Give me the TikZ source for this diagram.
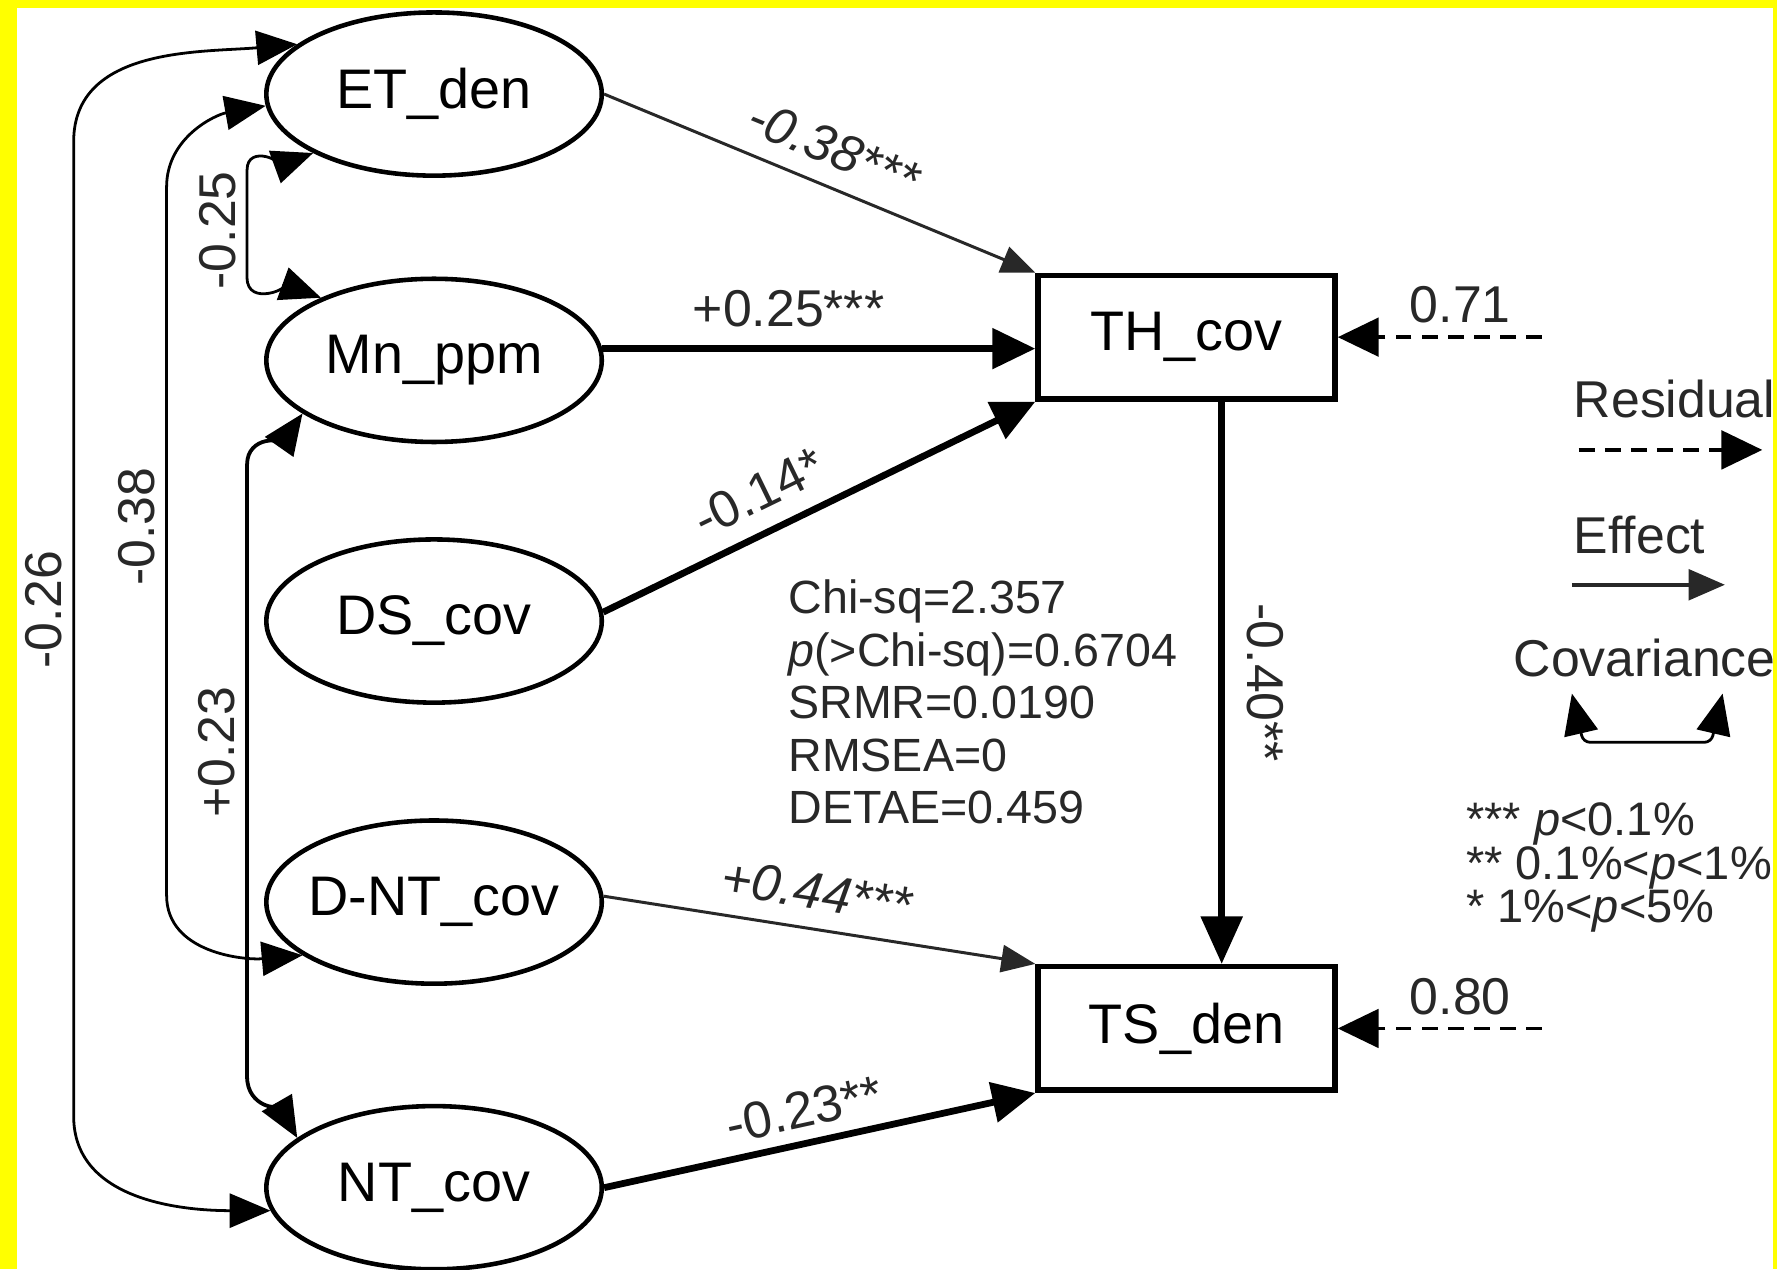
\documentclass[tikz,border=0pt]{standalone}
\usepackage{fontspec}
\setmainfont{Liberation Sans}
\usepackage{tikz}
\usetikzlibrary{arrows.meta, positioning, shapes.geometric}
\usepackage{xcolor}
\definecolor{frameyellow}{RGB}{255,255,0}
\definecolor{inkgray}{RGB}{40,40,40}

\begin{document}
\begin{tikzpicture}[
  latent/.style={ellipse, draw=black, line width=1.15pt, fill=white,
                 minimum width=2.96cm, minimum height=1.44cm, inner sep=0pt,
                 font=\fontsize{14}{16}\selectfont},
  obs/.style={rectangle, draw=black, line width=1.4pt, fill=white,
              minimum width=2.62cm, minimum height=1.09cm,
              font=\fontsize{14}{16}\selectfont},
  strong/.style={-{Triangle[length=0.38cm, width=0.35cm]}, line width=1.7pt, black},
  weak/.style={-{Triangle[length=0.30cm, width=0.24cm]}, line width=0.75pt, inkgray},
  cov/.style={{Triangle[length=0.36cm, width=0.30cm]}-{Triangle[length=0.36cm, width=0.30cm]},
              line width=0.7pt, black},
  resid/.style={-{Triangle[length=0.36cm, width=0.34cm]}, line width=0.85pt,
                dash pattern=on 0.14cm off 0.09cm},
  coef/.style={font=\fontsize{13}{15}\selectfont, text=inkgray, inner sep=4.5pt},
  coefit/.style={coef, font=\fontsize{13}{15}\selectfont\itshape},
  covlab/.style={coef, rotate=90, anchor=south, inner sep=2.5pt},
  stats/.style={font=\fontsize{11.7}{13.2}\selectfont, text=inkgray, align=left,
                inner sep=0pt, anchor=north west}
]

% frame
\fill[frameyellow] (0,0) rectangle (15.68,11.2);
\fill[white] (0.15,0) rectangle (15.645,11.13);
\useasboundingbox (0,0) rectangle (15.68,11.2);

% left column: predictors
\node[latent] (etden)  at (3.83,10.37) {ET\_den};
\node[latent] (mnppm)  at (3.83,8.02)  {Mn\_ppm};
\node[latent] (dscov)  at (3.83,5.72)  {DS\_cov};
\node[latent, inner xsep=-2pt] (dntcov) at (3.83,3.24) {D-NT\_cov};
\node[latent] (ntcov)  at (3.83,0.72)  {NT\_cov};

% right column: responses
\node[obs] (thcov) at (10.47,8.225) {TH\_cov};
\node[obs] (tsden) at (10.47,2.125) {TS\_den};

% effects
\draw[weak] (etden.east) -- node[coefit, sloped, above]{-0.38***} (thcov.north west);
\draw[strong] (mnppm.4) -- node[coef, above, pos=0.43]{+0.25***} (mnppm.4 -| thcov.west);
\draw[strong] (dscov.3) -- node[coef, sloped, above, pos=0.40]{-0.14*} (thcov.south west);
\draw[weak] (dntcov.2) -- node[coefit, sloped, above, pos=0.48]{+0.44***} (tsden.north west);
\draw[strong] (ntcov.east) -- node[coef, sloped, above, pos=0.48, inner sep=3pt]{-0.23**} (tsden.south west);
\draw[strong, -{Triangle[length=0.42cm, width=0.36cm]}] ([xshift=0.31cm]thcov.south)
  -- node[coef, rotate=-90, anchor=south, inner sep=5.5pt]{-0.40**} ([xshift=0.31cm]tsden.north);

% residuals
\coordinate (res1) at ([xshift=1.80cm]thcov.east);
\coordinate (res2) at ([xshift=1.80cm]tsden.east);
\draw[resid] (res1) -- node[coef, above, pos=0.40, inner sep=3pt]{0.71} (thcov.east);
\draw[resid] (res2) -- node[coef, above, pos=0.40, inner sep=3pt]{0.80} (tsden.east);

% covariances between predictors
\coordinate (k26a) at (0.65,9.95);  \coordinate (k26b) at (0.65,1.35);
\coordinate (k38a) at (1.47,9.55);  \coordinate (k38b) at (1.47,3.30);
\coordinate (k25a) at (2.18,9.70);  \coordinate (k25b) at (2.18,8.75);
\coordinate (k23a) at (2.18,7.10);  \coordinate (k23b) at (2.18,1.70);
\draw[cov] (etden.160) to[out=185, in=90] (k26a)
  -- node[covlab, pos=0.48]{-0.26} (k26b) to[out=-90, in=180] (ntcov.188);
\draw[cov] (etden.184) to[out=190, in=90] (k38a)
  -- node[covlab, pos=0.48]{-0.38} (k38b) to[out=-90, in=185] (dntcov.202);
\draw[cov] (etden.206) to[out=200, in=90] (k25a)
  -- node[covlab, pos=0.56]{-0.25} (k25b) to[out=-90, in=160] (mnppm.151);
\draw[cov, line width=0.95pt] (mnppm.202) to[out=235, in=90] (k23a)
  -- node[covlab, pos=0.47]{+0.23} (k23b) to[out=-90, in=120] (ntcov.160);

% fit statistics
\node[stats] (fit) at (6.95,6.09)
  {Chi-sq=2.357\\\textit{p}(>Chi-sq)=0.6704\\SRMR=0.0190\\RMSEA=0\\DETAE=0.459};

% legend
\node[coef, anchor=base west, inner sep=0pt] (legres) at (13.88,7.52) {Residual};
\coordinate (lr1) at (13.93,7.23);  \coordinate (lr2) at (15.55,7.23);
\draw[resid] (lr1) -- (lr2);
\node[coef, anchor=base west, inner sep=0pt] (legeff) at (13.88,6.32) {Effect};
\coordinate (le1) at (13.87,6.04);  \coordinate (le2) at (15.22,6.04);
\draw[-{Triangle[length=0.32cm, width=0.27cm]}, line width=0.9pt, inkgray] (le1) -- (le2);
\node[coef, anchor=base west, inner sep=0pt] (legcov) at (13.35,5.23) {Covariance};
\coordinate (lc1) at (13.87,5.08);  \coordinate (lc2) at (15.20,5.08);
\draw[cov, rounded corners=0.06cm] (lc1) -- ++(0.10,-0.43) -- ++(1.13,0) -- (lc2);

% significance key
\node[stats, font=\fontsize{11.8}{10.8}\selectfont] (sig) at (12.93,4.12)
  {*** \textit{p}<0.1\%\\** 0.1\%<\textit{p}<1\%\\* 1\%<\textit{p}<5\%};

\end{tikzpicture}
\end{document}
